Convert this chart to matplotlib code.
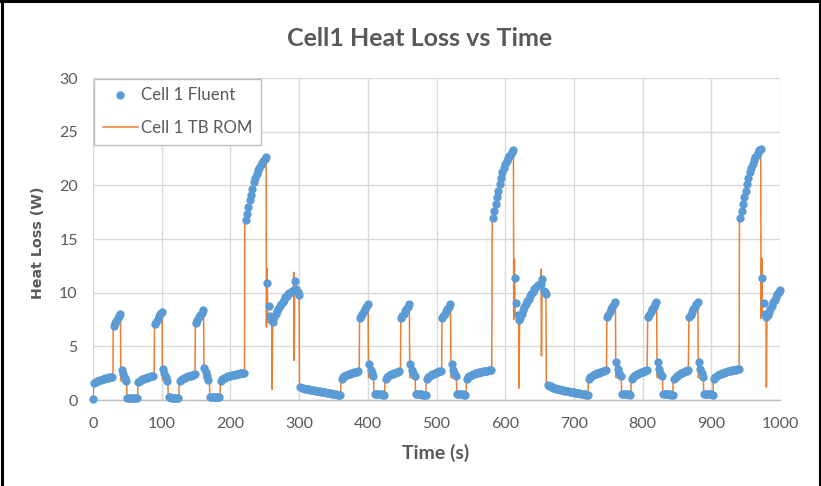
import matplotlib
matplotlib.use("Agg")
import matplotlib.pyplot as plt
from matplotlib.lines import Line2D

# ---------------- data ----------------
title = "Cell1 Heat Loss vs Time"
x_label = "Time (s)"
y_label = "Heat Loss (W)"
series_names = ["Cell 1 Fluent", "Cell 1 TB ROM"]
x_ticks = [0, 100, 200, 300, 400, 500, 600, 700, 800, 900, 1000]
y_ticks = [0, 5, 10, 15, 20, 25, 30]

sample_step = 2  # Fluent output every 2 s

# Fluent samples: (segment start time, values sampled every 2 s)
fluent_group1 = [
    (0, [0.10]),
    (2, [1.60, 1.68, 1.75, 1.81, 1.86, 1.90, 1.94, 1.98, 2.01, 2.04, 2.07, 2.10, 2.12, 2.15]),
    (30, [6.90, 7.15, 7.40, 7.62, 7.82, 8.00]),
    (42, [2.75, 2.45, 2.05, 1.75]),
    (50, [0.22, 0.21, 0.20, 0.20, 0.19, 0.19, 0.18, 0.18]),
    (66, [1.65, 1.76, 1.85, 1.92, 1.98, 2.03, 2.08, 2.12, 2.16, 2.19, 2.22, 2.25]),
    (90, [7.05, 7.30, 7.55, 7.78, 8.00, 8.20]),
    (102, [2.90, 2.55, 2.15, 1.80]),
    (110, [0.25, 0.24, 0.23, 0.22, 0.22, 0.21, 0.21, 0.20]),
    (126, [1.75, 1.86, 1.95, 2.02, 2.08, 2.14, 2.19, 2.23, 2.27, 2.31, 2.35, 2.38]),
    (150, [7.20, 7.45, 7.70, 7.95, 8.15, 8.35]),
    (162, [3.00, 2.60, 2.20, 1.85]),
    (170, [0.30, 0.29, 0.28, 0.27, 0.26, 0.26, 0.25, 0.25]),
    (186, [1.80, 1.92, 2.01, 2.08, 2.14, 2.19, 2.23, 2.27, 2.31, 2.34, 2.37, 2.40,
           2.43, 2.45, 2.47, 2.49, 2.51, 2.53]),
    (222, [16.8, 17.3, 18.0, 18.6, 19.1, 19.7, 20.3, 20.7, 21.1, 21.4, 21.65, 21.85,
           22.05, 22.25, 22.45, 22.6]),
    (254, [10.9, 8.8, 7.8, 7.4, 7.3, 7.7, 8.0, 8.25, 8.5, 8.75, 8.95, 9.15, 9.35, 9.55,
           9.7, 9.85, 10.0, 10.1, 10.2, 10.25, 11.1, 10.3, 10.1, 9.75]),
    (302, [1.20, 1.14, 1.10, 1.06, 1.03, 1.00, 0.98, 0.96, 0.94, 0.92, 0.90, 0.87,
           0.85, 0.82, 0.80, 0.78, 0.76, 0.73, 0.71, 0.69, 0.66, 0.64, 0.62, 0.60,
           0.58, 0.55, 0.53, 0.51, 0.49, 0.46]),
]
fluent_group2 = [
    (362, [2.00, 2.12, 2.21, 2.29, 2.35, 2.41, 2.46, 2.51, 2.55, 2.59, 2.62, 2.65, 2.68]),
    (388, [7.60, 7.80, 8.00, 8.25, 8.45, 8.70, 8.90]),
    (402, [3.40, 2.80, 2.50, 2.20]),
    (410, [0.60, 0.58, 0.56, 0.55, 0.53, 0.52, 0.51, 0.50]),
    (426, [2.00, 2.13, 2.23, 2.31, 2.38, 2.44, 2.50, 2.55, 2.60, 2.64, 2.68]),
    (448, [7.60, 7.80, 8.00, 8.25, 8.45, 8.70, 8.90]),
    (462, [3.40, 2.80, 2.50, 2.20]),
    (470, [0.58, 0.56, 0.55, 0.54, 0.52, 0.51, 0.50, 0.50]),
    (486, [2.00, 2.13, 2.23, 2.31, 2.38, 2.45, 2.51, 2.57, 2.62, 2.67, 2.72]),
    (508, [7.60, 7.85, 8.05, 8.30, 8.50, 8.70, 8.90]),
    (522, [3.40, 2.80, 2.50, 2.20]),
    (530, [0.58, 0.56, 0.55, 0.53, 0.52, 0.51, 0.50]),
    (544, [2.00, 2.12, 2.22, 2.30, 2.37, 2.43, 2.48, 2.52, 2.56, 2.59, 2.62, 2.65,
           2.68, 2.70, 2.72, 2.74, 2.76, 2.78, 2.80]),
    (582, [17.0, 17.6, 18.3, 18.9, 19.5, 20.1, 20.7, 21.2, 21.6, 22.0, 22.3, 22.55,
           22.75, 22.95, 23.15, 23.3]),
    (614, [11.4, 9.0, 7.9, 7.5, 7.6, 8.0, 8.35, 8.65, 8.95, 9.2, 9.45, 9.7, 9.9, 10.1,
           10.3, 10.45, 10.6, 10.7, 10.8, 10.85, 11.3, 10.2, 10.1, 9.9]),
    (662, [1.40, 1.32, 1.26, 1.20, 1.15, 1.11, 1.07, 1.03, 1.00, 0.97, 0.94, 0.91,
           0.88, 0.85, 0.83, 0.80, 0.78, 0.75, 0.73, 0.70, 0.68, 0.66, 0.63, 0.61,
           0.59, 0.57, 0.55, 0.53, 0.51, 0.48]),
]
fluent_group3 = [
    (722, [2.00, 2.13, 2.23, 2.31, 2.38, 2.44, 2.50, 2.55, 2.60, 2.64, 2.68, 2.72, 2.75]),
    (748, [7.70, 7.95, 8.20, 8.45, 8.70, 8.90, 9.10]),
    (762, [3.50, 2.90, 2.50, 2.20]),
    (770, [0.60, 0.58, 0.56, 0.55, 0.53, 0.52, 0.51]),
    (784, [2.00, 2.13, 2.23, 2.31, 2.38, 2.45, 2.51, 2.57, 2.62, 2.67, 2.71, 2.75]),
    (808, [7.70, 7.95, 8.20, 8.45, 8.70, 8.90, 9.10]),
    (822, [3.50, 2.90, 2.50, 2.20]),
    (830, [0.60, 0.58, 0.56, 0.55, 0.53, 0.52, 0.51, 0.50]),
    (846, [2.00, 2.14, 2.25, 2.34, 2.42, 2.49, 2.55, 2.61, 2.66, 2.71, 2.76]),
    (868, [7.70, 7.95, 8.20, 8.45, 8.70, 8.90, 9.10]),
    (882, [3.50, 2.90, 2.50, 2.10]),
    (890, [0.60, 0.58, 0.56, 0.55, 0.53, 0.52, 0.51]),
    (904, [2.00, 2.13, 2.23, 2.31, 2.38, 2.44, 2.50, 2.55, 2.59, 2.63, 2.67, 2.70,
           2.73, 2.76, 2.79, 2.82, 2.84, 2.86, 2.88]),
    (942, [17.0, 17.6, 18.3, 18.9, 19.5, 20.1, 20.7, 21.2, 21.6, 22.0, 22.35, 22.6,
           22.85, 23.05, 23.25, 23.4]),
    (974, [11.4, 9.0, 8.0, 7.7, 7.9, 8.2, 8.5, 8.8, 9.1, 9.35, 9.6, 9.85, 10.05, 10.25]),
]

# TB ROM curve: (time, heat loss) key points
rom_group1 = [
    (0, 0.1), (1, 1.6), (6, 1.75), (12, 1.9), (20, 2.03), (29, 2.15), (29.5, 6.9), (35, 7.5),
    (40, 8.0), (40.5, 1.8), (49, 1.6), (49.5, 0.2), (65, 0.18), (65.5, 1.65), (70, 1.85),
    (78, 2.05), (89, 2.25), (89.5, 7.05), (95, 7.7), (100.5, 8.2), (101, 1.9), (109, 1.7),
    (109.5, 0.25), (125, 0.2), (125.5, 1.75), (130, 1.95), (138, 2.15), (148.5, 2.38),
    (149, 7.2), (155, 7.8), (161, 8.35), (161.5, 2.0), (169.5, 1.8), (170, 0.3), (185, 0.25),
    (185.5, 1.8), (192, 2.05), (204, 2.3), (220.5, 2.53), (221, 16.8), (226, 18.0),
    (232, 19.7), (238, 21.1), (244, 21.85), (252, 22.6), (252.4, 6.8), (253.4, 12.3),
    (254.4, 7.2), (258, 7.4), (260.3, 7.3), (260.8, 1.0), (261.6, 7.3), (268, 8.25),
    (276, 9.15), (284, 9.85), (291.5, 10.25), (292.2, 11.9), (292.8, 3.7), (293.6, 10.3),
    (298, 10.1), (300, 9.75), (300.5, 1.22), (310, 1.03), (320, 0.92), (330, 0.80),
    (340, 0.69), (350, 0.58), (360.5, 0.46),
]
rom_group2 = [
    (361, 2.0), (366, 2.21), (374, 2.41), (387.5, 2.68), (388, 7.6), (394, 8.25), (400.5, 8.9),
    (401, 2.1), (408.5, 2.0), (409, 0.6), (424.5, 0.5), (425, 2.0), (430, 2.23), (438, 2.44),
    (447.5, 2.68), (448, 7.6), (454, 8.25), (460.5, 8.9), (461, 2.1), (469, 2.0), (469.5, 0.58),
    (484.5, 0.5), (485, 2.0), (490, 2.23), (498, 2.45), (507.5, 2.72), (508, 7.6), (514, 8.3),
    (520.5, 8.9), (521, 2.1), (529, 2.0), (529.5, 0.58), (543, 0.5), (543.5, 2.0), (550, 2.3),
    (560, 2.52), (570, 2.65), (580.5, 2.8), (581, 17.0), (586, 18.3), (592, 20.1), (598, 21.6),
    (604, 22.55), (612, 23.3), (612.4, 7.5), (613.4, 13.1), (614.4, 8.0), (618, 7.7),
    (619.6, 7.5), (620.1, 1.1), (621, 7.5), (626, 8.35), (634, 9.45), (642, 10.3),
    (651.5, 10.85), (652.2, 12.2), (652.8, 4.1), (653.6, 11.0), (656, 10.2), (659.3, 9.9),
    (659.8, 1.4), (670, 1.07), (680, 0.94), (690, 0.83), (700, 0.70), (710, 0.59), (720.5, 0.48),
]
rom_group3 = [
    (721, 2.0), (726, 2.23), (734, 2.44), (747.5, 2.75), (748, 7.7), (754, 8.45), (760.5, 9.1),
    (761, 2.1), (769, 2.0), (769.5, 0.6), (783, 0.51), (783.5, 2.0), (788, 2.23), (796, 2.45),
    (806.5, 2.75), (807.5, 7.7), (814, 8.45), (820.5, 9.1), (821, 2.1), (829, 2.0), (829.5, 0.6),
    (844, 0.5), (844.5, 2.0), (850, 2.25), (858, 2.49), (866.5, 2.76), (867.5, 7.7), (874, 8.45),
    (880.5, 9.1), (881, 2.1), (888.5, 2.0), (889, 0.6), (902.5, 0.51), (903, 2.0), (910, 2.31),
    (920, 2.55), (930, 2.73), (940.5, 2.88), (941, 17.0), (946, 18.3), (952, 20.1), (958, 21.6),
    (964, 22.6), (972, 23.4), (972.4, 7.6), (973.4, 13.2), (974.4, 8.0), (978, 7.8),
    (979.7, 7.7), (980.2, 1.2), (981, 7.8), (990, 9.1), (1000, 10.25),
]

# ---------------- assemble ----------------
fluent_t, fluent_q = [], []
for start, vals in fluent_group1 + fluent_group2 + fluent_group3:
    for i, v in enumerate(vals):
        fluent_t.append(start + sample_step * i)
        fluent_q.append(v)

rom_all = rom_group1 + rom_group2 + rom_group3
rom_t = [p[0] for p in rom_all]
rom_q = [p[1] for p in rom_all]

# ---------------- styling ----------------
W, H = 821, 486
BLUE = "#5B9BD5"
ORANGE = "#ED7D31"
TXT = "#595959"
GRID = "#D9D9D9"

fig = plt.figure(figsize=(W / 100, H / 100), dpi=100)
ax = fig.add_axes([93 / W, 1 - 400 / H, 687 / W, 322 / H])

h_rom, = ax.plot(rom_t, rom_q, color=ORANGE, lw=1.1, zorder=2, label=series_names[1])
h_fl, = ax.plot(fluent_t, fluent_q, "o", color=BLUE, ms=6.0, mew=0, zorder=3,
                label=series_names[0], clip_on=False)

ax.set_xlim(0, 1000)
ax.set_ylim(0, 30)
ax.set_xticks(x_ticks)
ax.set_yticks(y_ticks)
ax.grid(True, color=GRID, lw=1.0, zorder=0)
ax.set_axisbelow(True)
for s in ["top", "right", "left"]:
    ax.spines[s].set_visible(False)
ax.spines["bottom"].set_color("#BFBFBF")
ax.spines["bottom"].set_linewidth(1.0)
ax.tick_params(length=0, labelsize=11.5, labelcolor=TXT)
ax.tick_params(axis="y", pad=11)
ax.tick_params(axis="x", pad=12)
for lab in ax.get_xticklabels() + ax.get_yticklabels():
    lab.set_family("Lato")

fig.text(436 / W, 1 - 453 / H, x_label, ha="center", va="center", family="Lato",
         fontweight="bold", fontsize=14, color=TXT)
fig.text(38 / W, 1 - 243 / H, y_label, rotation=90, ha="center", va="center",
         family="DejaVu Sans", fontweight="bold", fontsize=10.3, color=TXT)
fig.text(420 / W, 1 - 39 / H, title, ha="center", va="center", family="Lato",
         fontweight="bold", fontsize=18, color=TXT)

leg = ax.legend(handles=[h_fl, h_rom], loc="upper left", bbox_to_anchor=(0.0015, 0.997),
                borderaxespad=0, frameon=True, fancybox=False, edgecolor="#BFBFBF",
                framealpha=1, prop={"family": "Lato", "size": 12.2}, labelcolor=TXT,
                handlelength=2.1, handletextpad=0.2, labelspacing=1.0, borderpad=0.5,
                numpoints=1)
leg.get_frame().set_linewidth(1.0)

# outer chart border
for xs, ys in [([1.5 / W, 1.5 / W], [0, 1]), ([0, 1], [1 - 1.5 / H, 1 - 1.5 / H]),
               ([1 - 1.5 / W, 1 - 1.5 / W], [0, 1])]:
    fig.add_artist(Line2D(xs, ys, color="black", lw=2.2, transform=fig.transFigure))

fig.savefig("out.png", dpi=100)
